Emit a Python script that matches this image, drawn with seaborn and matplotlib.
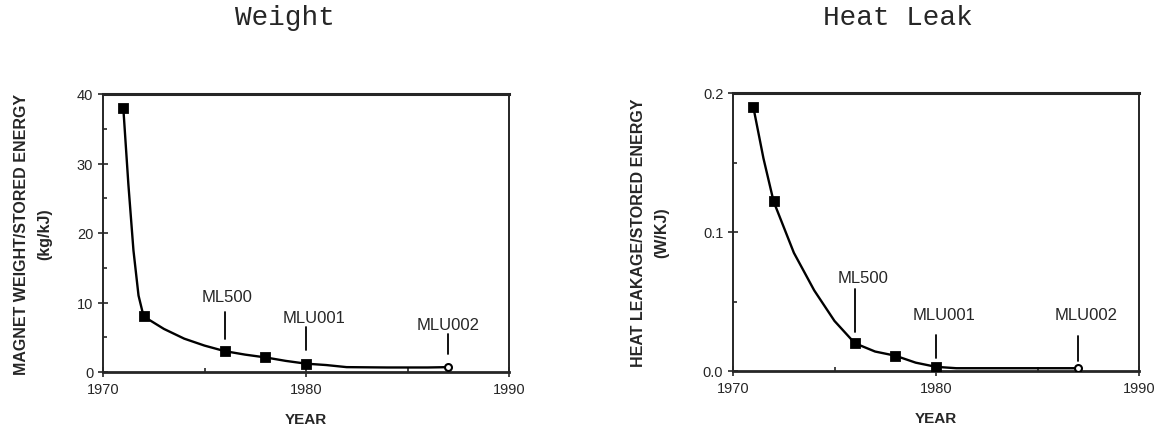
import numpy as np
import pandas as pd
import seaborn as sns
import matplotlib
matplotlib.use('Agg')
import matplotlib.pyplot as plt
from matplotlib.ticker import MultipleLocator

years = [1971, 1972, 1976, 1978, 1980, 1987]
weight = [38, 8.0, 3.0, 2.1, 1.2, 0.7]
heat = [0.190, 0.122, 0.020, 0.011, 0.003, 0.002]

# hand drawn fit curves
w_curve_years = [1971, 1971.25, 1971.5, 1971.75, 1972, 1973, 1974, 1975, 1976, 1977,
                 1978, 1979, 1980, 1981, 1982, 1984, 1986, 1987]
w_curve = [38, 27, 17.5, 11, 8.0, 6.2, 4.8, 3.8, 3.0, 2.5, 2.1, 1.6, 1.2, 1.0, 0.7,
           0.65, 0.65, 0.7]
h_curve_years = [1971, 1971.5, 1972, 1973, 1974, 1975, 1976, 1977, 1978, 1979, 1980,
                 1981, 1983, 1985, 1987]
h_curve = [0.190, 0.153, 0.122, 0.085, 0.058, 0.036, 0.020, 0.014, 0.011, 0.006, 0.003,
           0.002, 0.002, 0.002, 0.002]

labels = ['ML500', 'MLU001', 'MLU002']
label_years = [1976, 1980, 1987]
w_label_pos = [(1976.1, 10.8, 4.7, 8.6), (1980.4, 7.9, 3.2, 6.5), (1987.0, 6.9, 2.6, 5.5)]
h_label_pos = [(1976.4, 0.067, 0.028, 0.059), (1980.4, 0.041, 0.009, 0.026),
               (1987.4, 0.041, 0.007, 0.025)]

sns.set_style("ticks")
plt.rcParams['font.family'] = ['Liberation Sans', 'DejaVu Sans']

fig = plt.figure(figsize=(11.63, 4.31), dpi=100)
ax1 = fig.add_axes([103/1163, 1-373/431, 406/1163, 278/431])
ax2 = fig.add_axes([733/1163, 1-372/431, 406/1163, 278/431])


def draw(ax, cx, cy, px, py, ylim, major, minor, ylabel, lab_pos, fmt, pad):
    sns.lineplot(x=cx, y=cy, ax=ax, color='black', lw=1.7, sort=False)
    sns.scatterplot(x=px[:-1], y=py[:-1], ax=ax, marker='s', s=50, color='black',
                    edgecolor='black', zorder=5)
    sns.scatterplot(x=px[-1:], y=py[-1:], ax=ax, marker='o', s=25, color='white',
                    edgecolor='black', linewidth=1.5, zorder=5)
    ax.set_xlim(1970, 1990)
    ax.set_ylim(*ylim)
    ax.xaxis.set_major_locator(MultipleLocator(10))
    ax.xaxis.set_minor_locator(MultipleLocator(5))
    ax.yaxis.set_major_locator(MultipleLocator(major))
    ax.yaxis.set_minor_locator(MultipleLocator(minor))
    ax.yaxis.set_major_formatter(fmt)
    ax.tick_params(which='major', direction='inout', length=7, width=1.2, labelsize=10.5)
    ax.tick_params(which='minor', direction='in', length=3, width=1.2)
    for s in ax.spines.values():
        s.set_linewidth(1.4)
        s.set_visible(True)
    ax.spines['top'].set_linewidth(2.2)
    ax.spines['bottom'].set_linewidth(2.0)
    ax.set_xlabel('YEAR', fontsize=11, fontweight='bold', labelpad=12)
    ax.set_ylabel(ylabel, fontsize=11.5, fontweight='bold', labelpad=pad, linespacing=1.7)
    for name, (tx, ty, y0, y1), yr in zip(labels, lab_pos, label_years):
        ax.text(tx, ty, name, ha='center', va='center', fontsize=12)
        ax.plot([yr, yr], [y0, y1], color='black', lw=1.3)


draw(ax1, w_curve_years, w_curve, years, weight, (0, 40), 10, 5,
     'MAGNET WEIGHT/STORED ENERGY\n(kg/kJ)', w_label_pos, '{x:.0f}', 18)
draw(ax2, h_curve_years, h_curve, years, heat, (0, 0.2), 0.1, 0.05,
     'HEAT LEAKAGE/STORED ENERGY\n(W/KJ)', h_label_pos, '{x:.1f}', 24)

fig.text(285/1163, 1-18/431, 'Weight', ha='center', va='center', fontsize=20,
         family='Liberation Mono')
fig.text(898/1163, 1-18/431, 'Heat Leak', ha='center', va='center', fontsize=20,
         family='Liberation Mono')

fig.savefig('out.png', dpi=100)
